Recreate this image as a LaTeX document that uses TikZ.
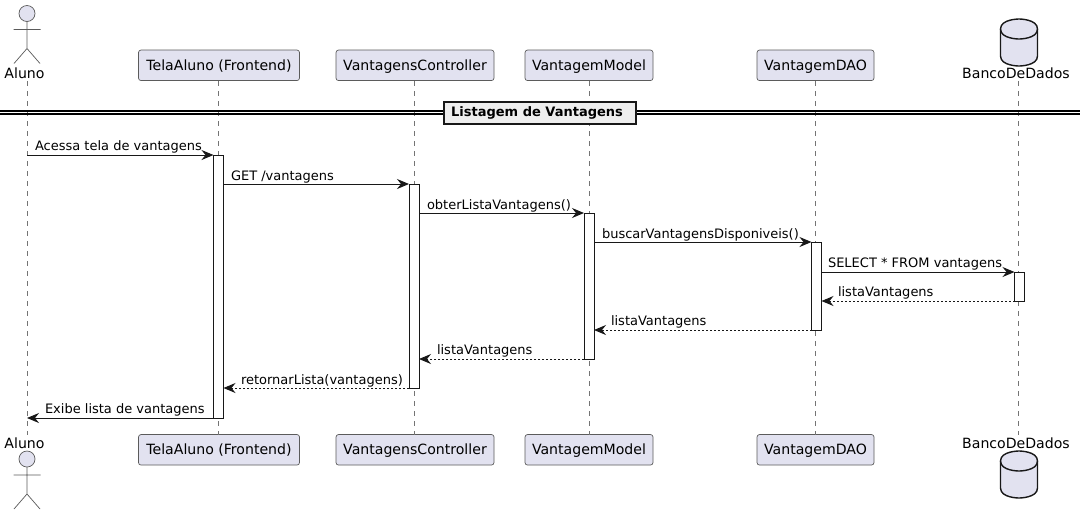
\documentclass[tikz,border=0pt]{standalone}
\usepackage{fontspec}
\setmainfont{DejaVu Sans}
\usetikzlibrary{arrows.meta}
\definecolor{partfill}{HTML}{E2E2F0}
\definecolor{partline}{HTML}{5B5B5B}
\definecolor{ink}{HTML}{181818}
\definecolor{sepfill}{HTML}{EEEEEE}
\tikzset{
  x=1pt,y=-1pt,
  lab/.style={font=\fontsize{13}{15}\selectfont,text=black,inner sep=0pt,outer sep=0pt},
  headlab/.style={lab,font=\fontsize{14.1}{16}\selectfont},
  msg/.style={lab,anchor=base west},
  part/.style={headlab,draw=partline,fill=partfill,line width=0.7pt,rounded corners=2.5pt,minimum height=30.5pt,inner sep=0pt,text height=11.5pt,text depth=2pt},
  life/.style={draw=ink!60,line width=0.8pt,dash pattern=on 5pt off 5pt},
  activ/.style={draw=ink,fill=white,line width=1pt,minimum width=10pt,inner sep=0pt,outer sep=0pt,anchor=north},
  actorline/.style={draw=partline,line width=0.7pt},
  dbline/.style={draw=ink,line width=1.4pt,fill=partfill},
  call/.style={draw=ink,line width=1pt,-{Stealth[length=12pt,width=10pt,inset=4pt]}},
  ret/.style={call,dash pattern=on 2pt off 2pt},
  sep/.style={draw=black,line width=1.1pt},
}
\newcommand{\actorfig}[2]{% centre x, head y
  \filldraw[actorline,fill=partfill] (#1,#2) circle[radius=8];
  \draw[actorline] (#1,#2+8) -- (#1,#2+35) (#1-13.5,#2+16) -- (#1+13.5,#2+16)
    (#1-13,#2+50) -- (#1,#2+35) -- (#1+13,#2+50);
}
\newcommand{\dbfig}[2]{% centre x, top y
  \path[dbline] (#1-18.5,#2+10) .. controls (#1-18.5,#2) and (#1,#2) .. (#1,#2)
    .. controls (#1,#2) and (#1+18.5,#2) .. (#1+18.5,#2+10)
    -- (#1+18.5,#2+37) .. controls (#1+18.5,#2+47) and (#1,#2+47) .. (#1,#2+47)
    .. controls (#1,#2+47) and (#1-18.5,#2+47) .. (#1-18.5,#2+37) -- cycle;
  \draw[dbline,fill=none] (#1-18.5,#2+10) .. controls (#1-18.5,#2+20) and (#1,#2+20) .. (#1,#2+20)
    .. controls (#1,#2+20) and (#1+18.5,#2+20) .. (#1+18.5,#2+10);
}
\begin{document}
\begin{tikzpicture}
\useasboundingbox (0,0) rectangle (1086,515);
\fill[white] (0,0) rectangle (1086,515);
% top heads
\node[headlab] (aT) at (24.5,73) {Aluno};
\node[part,minimum width=161pt] (tT) at (219,65.3) {TelaAluno (Frontend)};
\node[part,minimum width=158pt] (cT) at (415,65.3) {VantagensController};
\node[part,minimum width=128pt] (mT) at (589,65.3) {VantagemModel};
\node[part,minimum width=117pt] (dT) at (815.5,65.3) {VantagemDAO};
\node[headlab] (bT) at (1016,73) {BancoDeDados};
% bottom heads
\node[headlab] (aB) at (24.5,443) {Aluno};
\node[part,minimum width=161pt] (tB) at (219,449.8) {TelaAluno (Frontend)};
\node[part,minimum width=158pt] (cB) at (415,449.8) {VantagensController};
\node[part,minimum width=128pt] (mB) at (589,449.8) {VantagemModel};
\node[part,minimum width=117pt] (dB) at (815.5,449.8) {VantagemDAO};
\node[headlab] (bB) at (1016,443) {BancoDeDados};
% lifelines
\coordinate (aL1) at (27,81); \coordinate (aL2) at (27,435);
\coordinate (bL1) at (1018.5,81); \coordinate (bL2) at (1018.5,435);
\coordinate (tL1) at (218.5,81); \coordinate (tL2) at (218.5,434.5);
\coordinate (cL1) at (414,81); \coordinate (cL2) at (414,434.5);
\coordinate (mL1) at (589,81); \coordinate (mL2) at (589,434.5);
\coordinate (dL1) at (815.5,81); \coordinate (dL2) at (815.5,434.5);
\draw[life] (aL1) -- (aL2);
\draw[life] (tL1) -- (tL2);
\draw[life] (cL1) -- (cL2);
\draw[life] (mL1) -- (mL2);
\draw[life] (dL1) -- (dL2);
\draw[life] (bL1) -- (bL2);
% actors, databases
\actorfig{27}{13.5}
\actorfig{27}{459}
\dbfig{1019}{19}
\dbfig{1019}{451}
% separator
\coordinate (sL) at (0,111); \coordinate (sR) at (1080,111);
\coordinate (sL2) at (0,114); \coordinate (sR2) at (1080,114);
\draw[sep] (sL) -- (sR);
\draw[sep] (sL2) -- (sR2);
\node[lab,draw=ink,line width=2pt,fill=sepfill,minimum width=192pt,minimum height=22pt,font=\fontsize{13}{15}\selectfont\bfseries] (sepbox) at (540,112.5) {Listagem de Vantagens\kern6pt\null};
% activations
\node[activ,minimum height=263pt] (tA) at (218.5,155) {};
\node[activ,minimum height=204pt] (cA) at (414,184) {};
\node[activ,minimum height=146pt] (mA) at (589,213) {};
\node[activ,minimum height=88pt] (dA) at (816.5,242) {};
\node[activ,minimum height=29pt] (bA) at (1019.5,272) {};
% messages
\coordinate (m1) at (27,155);
\draw[call] (m1) -- (tA.north west);
\node[msg] (l1) at (35,150) {Acessa tela de vantagens};
\draw[call] (tA.east |- 0,184) -- (cA.north west);
\node[msg] (l2) at (231,180) {GET /vantagens};
\draw[call] (cA.east |- 0,213) -- (mA.north west);
\node[msg] (l3) at (427,209) {obterListaVantagens()};
\draw[call] (mA.east |- 0,242) -- (dA.north west);
\node[msg] (l4) at (602,238) {buscarVantagensDisponiveis()};
\draw[call] (dA.east |- 0,272) -- (bA.north west);
\node[msg] (l5) at (828,267) {SELECT * FROM vantagens};
\draw[ret] (bA.south west) -- (dA.east |- bA.south);
\node[msg] (l6) at (838,296) {listaVantagens};
\draw[ret] (dA.south west) -- (mA.east |- dA.south);
\node[msg] (l7) at (611,325) {listaVantagens};
\draw[ret] (mA.south west) -- (cA.east |- mA.south);
\node[msg] (l8) at (437,354) {listaVantagens};
\draw[ret] (cA.south west) -- (tA.east |- cA.south);
\node[msg] (l9) at (241,384) {retornarLista(vantagens)};
\coordinate (m10) at (27,418);
\draw[call] (tA.south west) -- (m10);
\node[msg] (l10) at (45,413) {Exibe lista de vantagens};
\end{tikzpicture}
\end{document}
